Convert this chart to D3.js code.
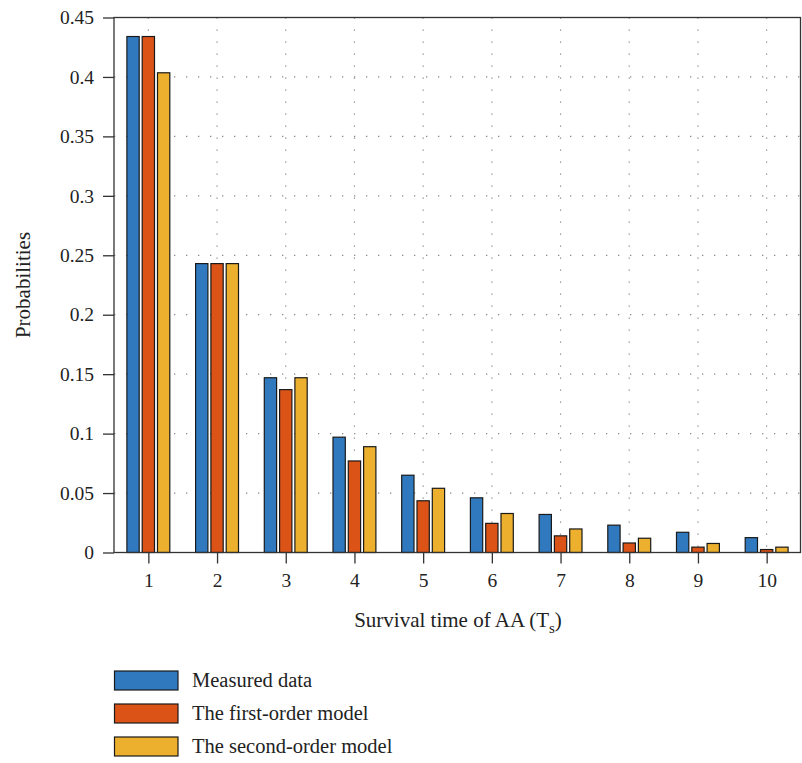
<!DOCTYPE html>
<html><head><meta charset="utf-8">
<script src="https://cdn.jsdelivr.net/npm/d3@7"></script>
<style>
html,body{margin:0;padding:0;background:#fff;}
svg{display:block;font-family:"Liberation Serif","DejaVu Serif",serif;}
</style></head>
<body><svg id="c" width="802" height="763"></svg>
<script>
const categories = [1,2,3,4,5,6,7,8,9,10];
const measured   = [0.434,0.243,0.147,0.097,0.065,0.046,0.032,0.023,0.017,0.0125];
const firstOrder = [0.434,0.243,0.137,0.077,0.0435,0.0245,0.014,0.008,0.0045,0.0025];
const secondOrder= [0.4035,0.243,0.147,0.089,0.054,0.0328,0.0198,0.012,0.0076,0.0045];
const seriesNames = ["Measured data","The first-order model","The second-order model"];
const seriesColors = ["#3079be","#dc5318","#ecb02e"];
const yTicks = [0,0.05,0.1,0.15,0.2,0.25,0.3,0.35,0.4,0.45];
const yTickLabels = ["0","0.05","0.1","0.15","0.2","0.25","0.3","0.35","0.4","0.45"];

const series = [measured, firstOrder, secondOrder];
const svg = d3.select("#c");
const x = d3.scaleLinear().domain([0.5,10.5]).range([114,801]);
const y = d3.scaleLinear().domain([0,0.45]).range([552.5,17.5]);
const L = 114, R = 800.5, T = 17.5, B = 552.5;

// grid
const grid = svg.append("g").attr("stroke","#888").attr("stroke-width",1.2).attr("stroke-dasharray","1.3,10.7");
grid.selectAll("line.h").data(yTicks.filter(d=>d>0 && d<0.45)).join("line")
  .attr("x1",L).attr("x2",R).attr("y1",d=>y(d)).attr("y2",d=>y(d));
grid.selectAll("line.v").data(categories).join("line")
  .attr("x1",d=>x(d)).attr("x2",d=>x(d)).attr("y1",T).attr("y2",B);

// bars
const bw = 12.3, step = 15.3;
series.forEach((vals,si)=>{
  svg.append("g").selectAll("rect").data(vals).join("rect")
    .attr("x",(d,i)=>x(categories[i]) + (si-1)*step - bw/2)
    .attr("y",d=>y(d))
    .attr("width",bw)
    .attr("height",d=>y(0)-y(d))
    .attr("fill",seriesColors[si])
    .attr("stroke","#1a1a1a").attr("stroke-width",1.2);
});

// axes
const yAxis = svg.append("g").attr("transform",`translate(${L},0)`)
  .call(d3.axisLeft(y).tickValues(yTicks).tickFormat((d,i)=>yTickLabels[i]).tickSize(11).tickPadding(9));
const xAxis = svg.append("g").attr("transform",`translate(0,${B})`)
  .call(d3.axisBottom(x).tickValues(categories).tickFormat(d=>String(d)).tickSize(11).tickPadding(10));
[yAxis,xAxis].forEach(a=>{
  a.select(".domain").remove();
  a.selectAll("line").attr("stroke","#333").attr("stroke-width",1.3);
  a.selectAll("text").attr("font-size",19.5).attr("fill","#222").attr("font-family","Liberation Serif, serif");
});
// frame
svg.append("rect").attr("x",L).attr("y",T).attr("width",R-L).attr("height",B-T)
  .attr("fill","none").attr("stroke","#333").attr("stroke-width",1.3);

// labels
svg.append("text").attr("x",458).attr("y",627).attr("text-anchor","middle")
  .attr("font-size",21).attr("fill","#222")
  .call(t=>{t.append("tspan").text("Survival time of AA (T");
            t.append("tspan").attr("font-size",15).attr("dy",6).text("s");
            t.append("tspan").attr("dy",-6).text(")");});
svg.append("text").attr("transform","translate(30,285) rotate(-90)").attr("text-anchor","middle")
  .attr("font-size",21).attr("fill","#222").text("Probabilities");

// legend
const lg = svg.append("g");
seriesNames.forEach((n,i)=>{
  const yy = 671 + i*33;
  lg.append("rect").attr("x",114.5).attr("y",yy).attr("width",63.5).attr("height",19)
    .attr("fill",seriesColors[i]).attr("stroke","#1a1a1a").attr("stroke-width",1.2);
  lg.append("text").attr("x",192).attr("y",yy+15.5).attr("font-size",20.5).attr("fill","#222").text(n);
});
</script></body></html>
